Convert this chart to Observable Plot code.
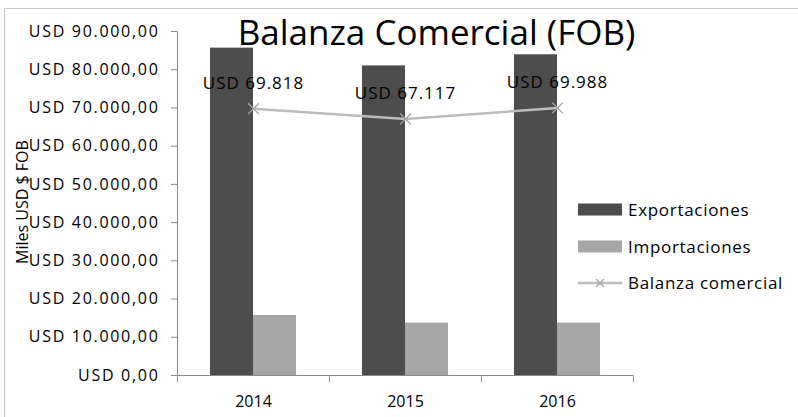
<!DOCTYPE html>
<html><head><meta charset="utf-8">
<script src="https://cdn.jsdelivr.net/npm/d3@7"></script>
<script src="https://cdn.jsdelivr.net/npm/@observablehq/plot@0.6"></script>
<style>
body{margin:0;background:#fff;}
#chart{position:relative;width:798px;height:417px;overflow:hidden;background:#fff;}
#border{position:absolute;left:4px;top:8px;width:900px;height:500px;border-left:1px solid #c6c6c6;border-top:1px solid #c6c6c6;}
#chart svg{position:absolute;left:0;top:0;max-width:none;}
#chart g[aria-label="y-axis tick"], #chart g[aria-label="x-axis tick"]{stroke:#8a8a8a;}
#chart g[aria-label="y-axis tick label"] text{letter-spacing:1.7px;font-size:16px;}
#chart g[aria-label="x-axis tick label"] text{font-size:16px;}
#chart g[aria-label="text"] text{letter-spacing:1px;font-size:17px;}
</style></head><body>
<div id="chart"><div id="border"></div></div>
<script>
const years = ["2014", "2015", "2016"];
const exportaciones = [85650, 81000, 83900];
const importaciones = [15700, 13700, 13700];
const balanza = [69818, 67117, 69988];
const yTicks = [0, 10000, 20000, 30000, 40000, 50000, 60000, 70000, 80000, 90000];
const seriesNames = ["Exportaciones", "Importaciones", "Balanza comercial"];
const colors = ["#4d4d4d", "#a6a6a6", "#bcbcbc"];
const markerColor = "#a3a3a3";
const titleText = "Balanza Comercial (FOB)";
const yLabelText = "Miles USD $ FOB";

const locale = d3.formatLocale({decimal: ",", thousands: ".", grouping: [3], currency: ["", ""]});
const fmtAxis = locale.format(",.2f");
const fmtLabel = locale.format(",d");

const rows = years.map((year, i) => ({year, exp: exportaciones[i], imp: importaciones[i], bal: balanza[i]}));

const W = 798, H = 417, mL = 177, mR = 165, mT = 31, mB = 42;
const bw = (W - mL - mR) / years.length;
const outer = bw * 0.217, half = bw / 2;
const font = "'Open Sans', sans-serif";

const svg = Plot.plot({
  width: W, height: H, marginLeft: mL, marginRight: mR, marginTop: mT, marginBottom: mB,
  style: {fontFamily: font, fontSize: "16px", color: "#000", background: "transparent", overflow: "visible"},
  x: {type: "band", domain: years, padding: 0},
  y: {domain: [0, 90000]},
  marks: [
    Plot.barY(rows, {x: "year", y: "exp", fill: colors[0], insetLeft: outer, insetRight: half}),
    Plot.barY(rows, {x: "year", y: "imp", fill: colors[1], insetLeft: half, insetRight: outer}),
    Plot.frame({anchor: "left", stroke: "#8a8a8a"}),
    Plot.frame({anchor: "bottom", stroke: "#8a8a8a"}),
    Plot.axisY({ticks: yTicks, tickSize: 6, tickPadding: 12, fontSize: 16, tickFormat: d => "USD " + fmtAxis(d), label: null}),
    Plot.axisX({tickSize: 0, tickPadding: 20, fontSize: 16, label: null}),
    Plot.axisX({tickSize: 7, tickFormat: () => "", dx: -half, label: null}),
    Plot.axisX({tickSize: 7, tickFormat: () => "", dx: half, label: null}),
    Plot.line(rows, {x: "year", y: "bal", stroke: colors[2], strokeWidth: 2.5}),
    Plot.dot(rows, {x: "year", y: "bal", symbol: "times", stroke: markerColor, strokeWidth: 1.3, r: 5}),
    Plot.text(rows, {x: "year", y: "bal", text: d => "USD " + fmtLabel(d.bal), dy: -25, fontSize: 17, fill: "#000"})
  ]
});
document.getElementById("chart").appendChild(svg);

const s = d3.select(svg);
function addText(sel, size) {
  return sel.append("text").attr("font-family", font).attr("font-size", size)
    .style("font-family", font).style("font-size", size + "px").attr("fill", "#000");
}
// Title
addText(s, 35).attr("x", 436.5).attr("y", 45).attr("text-anchor", "middle").text(titleText);
// Y label
addText(s, 16).attr("transform", "translate(27.5,202) rotate(-90)").attr("text-anchor", "middle").text(yLabelText);
// Legend
const lg = s.append("g");
const ly = [209.5, 246.5, 283];
seriesNames.forEach((name, i) => {
  if (i < 2) {
    lg.append("rect").attr("x", 578).attr("y", ly[i] - 6).attr("width", 44).attr("height", 12).attr("fill", colors[i]);
  } else {
    lg.append("line").attr("x1", 578).attr("x2", 622).attr("y1", ly[i]).attr("y2", ly[i])
      .attr("stroke", colors[2]).attr("stroke-width", 2.5);
    lg.append("path").attr("d", "M596," + (ly[i] - 4) + "L604," + (ly[i] + 4) + "M596," + (ly[i] + 4) + "L604," + (ly[i] - 4))
      .attr("stroke", markerColor).attr("stroke-width", 1.3).attr("fill", "none");
  }
  addText(lg, 17).attr("x", 628).attr("y", ly[i] + 6).attr("text-anchor", "start")
    .style("letter-spacing", "0.7px").text(name);
});
</script>
</body></html>
